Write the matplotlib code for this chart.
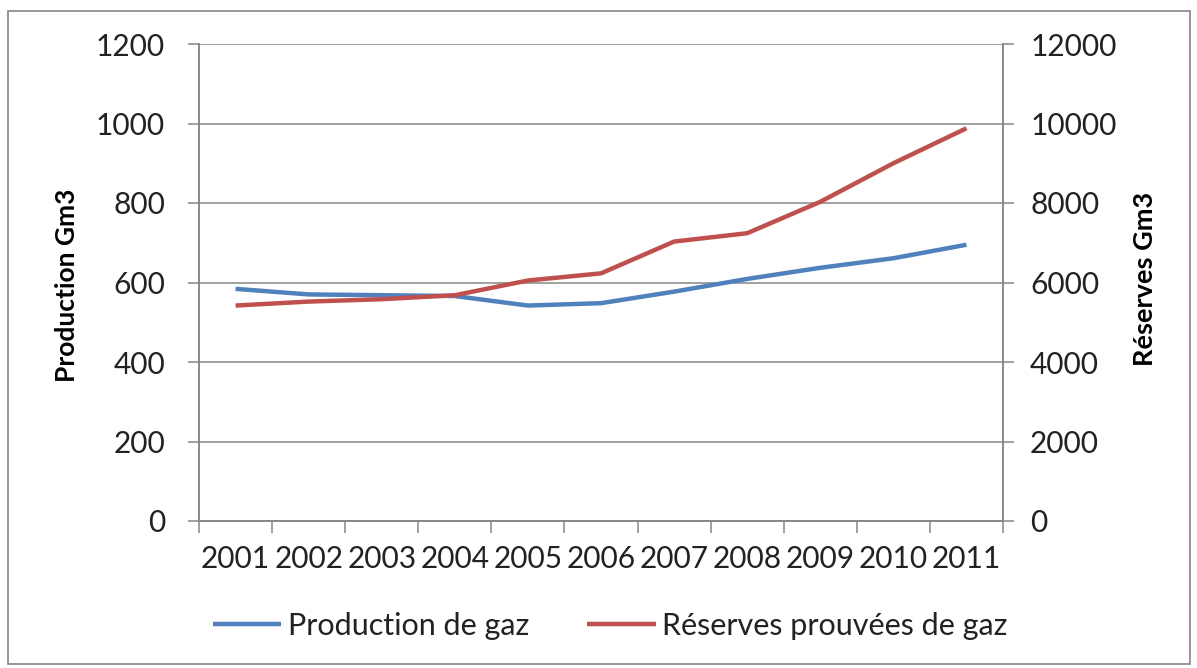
import matplotlib.pyplot as plt
import numpy as np
from matplotlib.patches import Rectangle

# data
years = ['2001', '2002', '2003', '2004', '2005', '2006', '2007', '2008', '2009', '2010', '2011']
production = [584, 570, 568, 566, 542, 548, 577, 609, 637, 661, 695]
reserves = [5420, 5520, 5580, 5680, 6050, 6230, 7030, 7240, 8030, 9000, 9880]

blue = '#4F81BD'
red = '#C0504D'
grey = '#868686'
txt = '#222222'

plt.rcParams['font.family'] = ['Lato', 'DejaVu Sans']

fig = plt.figure(figsize=(11.97, 6.68), dpi=100)
ax = fig.add_axes([199/1197, 1 - 521/668, (1003 - 199)/1197, (521 - 44)/668])
ax2 = ax.twinx()

x = np.arange(len(years))
l1, = ax.plot(x, production, color=blue, lw=3.2, solid_capstyle='butt', label='Production de gaz')
l2, = ax2.plot(x, reserves, color=red, lw=3.2, solid_capstyle='butt', label='Réserves prouvées de gaz')

ax.set_xlim(-0.5, len(years) - 0.5)
ax.set_ylim(0, 1200)
ax2.set_ylim(0, 12000)
ax.set_yticks(np.arange(0, 1201, 200))
ax2.set_yticks(np.arange(0, 12001, 2000))
ax.yaxis.grid(True, color=grey, lw=1.1)
ax.set_axisbelow(True)

# ticks between categories, labels at centres
ax.set_xticks(np.arange(-0.5, len(years), 1.0))
ax.set_xticklabels([])
ax.set_xticks(x, minor=True)
ax.set_xticklabels(years, minor=True)
ax.tick_params(axis='x', which='major', length=8.5, width=1.1, color=grey, direction='out')
ax.tick_params(axis='x', which='minor', length=0, pad=17, labelsize=21.5, labelcolor=txt)
ax.tick_params(axis='y', length=8, width=1.1, color=grey, pad=16.5, labelsize=21.5, labelcolor=txt)
ax2.tick_params(axis='y', length=8, width=1.1, color=grey, pad=11.5, labelsize=21.5, labelcolor=txt)

for a in (ax, ax2):
    for s in a.spines.values():
        s.set_color(grey)
        s.set_linewidth(1.1)
    a.spines['top'].set_visible(False)

fig.text(67/1197, 1 - 285/668, 'Production Gm3', rotation=90, ha='center', va='center',
         fontsize=19, fontweight='bold', color='black')
fig.text(1145/1197, 1 - 279/668, 'Réserves Gm3', rotation=90, ha='center', va='center',
         fontsize=19.5, fontweight='bold', color='black')

fig.legend(handles=[l1, l2], loc='center', bbox_to_anchor=(610/1197, 1 - 626/668), ncol=2,
           frameon=False, fontsize=22, handlelength=2.25, handletextpad=0.2, columnspacing=1.9,
           labelcolor=txt, borderpad=0)

# outer chart border
fig.patches.append(Rectangle((8/1197, 1 - 664/668), 1182/1197, 653/668, transform=fig.transFigure,
                             fill=False, edgecolor=grey, lw=1.2))

plt.savefig('out.png', dpi=100)
